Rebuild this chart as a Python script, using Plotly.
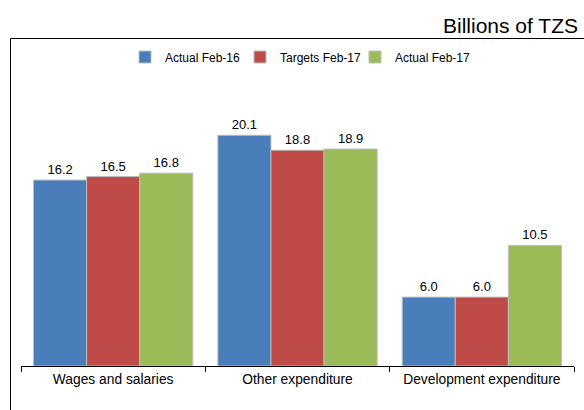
import plotly.graph_objects as go

categories = ["Wages and salaries", "Other expenditure", "Development expenditure"]
series_names = ["Actual Feb-16", "Targets Feb-17", "Actual Feb-17"]
actual_feb16 = [16.2, 20.1, 6.0]
targets_feb17 = [16.5, 18.8, 6.0]
actual_feb17 = [16.8, 18.9, 10.5]
colors = ["#4a7ebb", "#be4b48", "#9bbb59"]

W, H = 584, 410
ml, mr, mt, mb = 21, 10, 60, 44
plot_h = H - mt - mb
ymax = plot_h / 11.48

fig = go.Figure()
for name, vals, c in zip(series_names, [actual_feb16, targets_feb17, actual_feb17], colors):
    fig.add_trace(go.Bar(
        name=name, x=categories, y=vals,
        marker=dict(color=c, line=dict(color="#bdbdbd", width=1)),
        text=[f"{v:.1f}" for v in vals], textposition="outside",
        textfont=dict(size=13, color="#000000", family="Liberation Sans, Arial"),
        cliponaxis=False,
    ))

def px_to_paper_y(py):
    return (H - mb - py) / plot_h

def px_to_paper_x(px):
    return (px - ml) / (W - ml - mr)

fig.update_layout(
    width=W, height=H,
    margin=dict(l=ml, r=mr, t=mt, b=mb),
    paper_bgcolor="white", plot_bgcolor="white",
    barmode="group", bargap=0.136, bargroupgap=0,
    font=dict(family="Liberation Sans, Arial", size=12, color="#000000"),
    showlegend=True,
    legend=dict(orientation="h", x=0.5, xanchor="center",
                y=px_to_paper_y(57), yanchor="middle",
                font=dict(size=12), itemwidth=30, traceorder="normal",
                entrywidth=70, entrywidthmode="pixels",
                bgcolor="rgba(0,0,0,0)"),
    xaxis=dict(showline=True, linecolor="#000000", linewidth=1,
               ticks="outside", tickson="boundaries", ticklen=5, tickcolor="#000000",
               tickfont=dict(size=13.8), showgrid=False, range=[-0.5, 2.5]),
    yaxis=dict(range=[0, ymax], visible=False, showgrid=False, zeroline=False),
    shapes=[dict(type="rect", xref="paper", yref="paper",
                 x0=px_to_paper_x(10.5), x1=px_to_paper_x(600),
                 y0=px_to_paper_y(430), y1=px_to_paper_y(38.5),
                 line=dict(color="#000000", width=1), fillcolor="rgba(0,0,0,0)",
                 layer="below")],
    annotations=[dict(text="Billions of TZS", xref="paper", yref="paper",
                      x=px_to_paper_x(580), xanchor="right",
                      y=px_to_paper_y(26), yanchor="middle",
                      showarrow=False, font=dict(size=21, color="#000000"))],
)

fig.write_html("out.html", config={"displayModeBar": False},
               post_script="document.body.style.margin='0';document.body.style.padding='0';")
